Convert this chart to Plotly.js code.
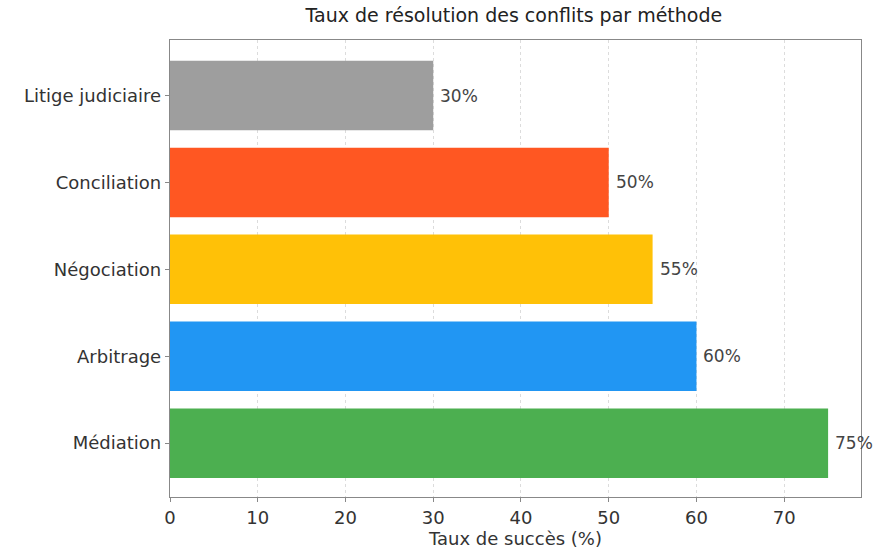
<!DOCTYPE html>
<html><head><meta charset="utf-8">
<script src="https://cdn.plot.ly/plotly-3.0.1.min.js"></script>
<style>html,body{margin:0;padding:0;background:#fff}#c{width:877px;height:554px}</style>
</head><body><div id="c"></div>
<script>
const methods = ["Médiation", "Arbitrage", "Négociation", "Conciliation", "Litige judiciaire"];
const rates = [75, 60, 55, 50, 30];
const colors = ["#4CAF50", "#2196F3", "#FFC107", "#FF5722", "#9E9E9E"];
const tickVals = [0, 10, 20, 30, 40, 50, 60, 70];

const fontFam = "DejaVu Sans, sans-serif";
const trace = {
  type: "bar", orientation: "h",
  y: methods, x: rates,
  marker: {color: colors, line: {width: 0}},
  width: 0.8, hoverinfo: "none"
};
const annotations = methods.map((m, i) => ({
  x: rates[i], y: m, xref: "x", yref: "y",
  text: rates[i] + "%", showarrow: false,
  xanchor: "left", xshift: 5,
  font: {family: fontFam, size: 17, color: "#444"}
}));
const layout = {
  width: 877, height: 554,
  margin: {l: 170, r: 16, t: 40, b: 57},
  paper_bgcolor: "#fff", plot_bgcolor: "#fff",
  showlegend: false,
  font: {family: fontFam, size: 17, color: "#333"},
  title: {text: "Taux de résolution des conflits par méthode", x: 0.586, xanchor: "center", y: 0.985, yanchor: "top",
          font: {family: fontFam, size: 19, color: "#222"}},
  xaxis: {
    range: [0, 78.75], tickvals: tickVals, ticktext: tickVals.map(String),
    showgrid: true, gridcolor: "#dcdcdc", griddash: "dot", gridwidth: 1,
    zeroline: false, showline: true, linecolor: "#888", linewidth: 1.2, mirror: true,
    ticks: "outside", ticklen: 4, tickcolor: "#888",
    tickfont: {family: fontFam, size: 18, color: "#333"},
    title: {text: "Taux de succès (%)", font: {family: fontFam, size: 18, color: "#333"}, standoff: 2}
  },
  yaxis: {
    range: [-0.62, 4.64], showgrid: false, zeroline: false,
    showline: true, linecolor: "#888", linewidth: 1.2, mirror: true,
    ticks: "outside", ticklen: 4, tickcolor: "#888",
    tickfont: {family: fontFam, size: 18, color: "#333"}
  },
  annotations: annotations
};
Plotly.newPlot("c", [trace], layout, {displayModeBar: false, staticPlot: true});
</script></body></html>
